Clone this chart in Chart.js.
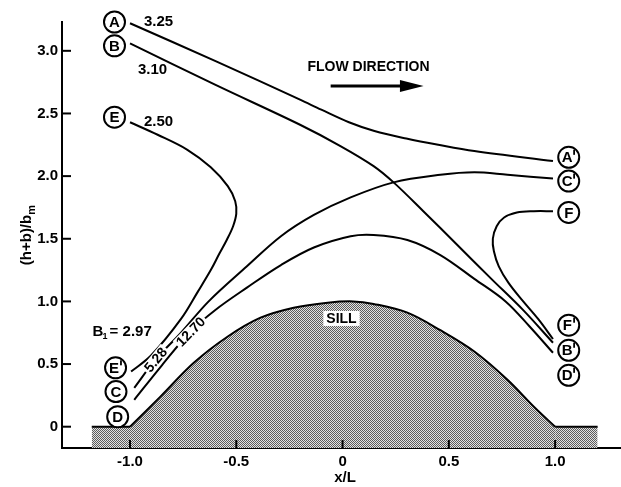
<!DOCTYPE html>
<html>
<head>
<meta charset="utf-8">
<script src="https://cdn.jsdelivr.net/npm/chart.js@4.4.0/dist/chart.umd.min.js"></script>
<style>
    html, body { margin: 0; padding: 0; background: #fff; }
    #wrap { width: 621px; height: 487px; }
</style>
</head>
<body>
<div id="wrap"><canvas id="chart" width="621" height="487"></canvas></div>
<script>
// axis ticks
const xTicks = [-1.0, -0.5, 0, 0.5, 1.0];
const xTickLabels = ['-1.0', '-0.5', '0', '0.5', '1.0'];
const yTicks = [0, 0.5, 1.0, 1.5, 2.0, 2.5, 3.0];
const yTickLabels = ['0', '0.5', '1.0', '1.5', '2.0', '2.5', '3.0'];

// streamlines, [x/L, (h+b)/bm]
const curveA = [[-1.0, 3.22], [-0.6, 2.92], [-0.2, 2.61], [-0.1, 2.53], [0.03, 2.43], [0.15, 2.36], [0.3, 2.30], [0.45, 2.25], [0.62, 2.20], [0.99, 2.12]];
const curveB = [[-1.0, 3.06], [-0.6, 2.73], [-0.2, 2.41], [-0.01, 2.24], [0.146, 2.08], [0.24, 1.95], [0.38, 1.72], [0.54, 1.45], [0.70, 1.18], [0.85, 0.93], [0.99, 0.67]];
const curveC = [[-0.98, 0.31], [-0.88, 0.535], [-0.76, 0.75], [-0.63, 1.0], [-0.45, 1.28], [-0.29, 1.52], [-0.135, 1.69], [0.038, 1.83], [0.24, 1.95], [0.46, 2.01], [0.62, 2.03], [0.776, 2.01], [0.99, 1.98]];
const curveD = [[-0.98, 0.215], [-0.85, 0.49], [-0.715, 0.76], [-0.60, 0.93], [-0.45, 1.11], [-0.29, 1.29], [-0.135, 1.43], [0.038, 1.52], [0.146, 1.53], [0.305, 1.49], [0.46, 1.37], [0.62, 1.18], [0.767, 1.0], [0.88, 0.80], [0.99, 0.59]];
const curveE = [[-1.0, 2.43], [-0.87, 2.33], [-0.73, 2.21], [-0.62, 2.07], [-0.54, 1.92], [-0.505, 1.80], [-0.50, 1.70], [-0.515, 1.60], [-0.545, 1.49], [-0.58, 1.38], [-0.62, 1.25], [-0.68, 1.08], [-0.76, 0.86], [-0.90, 0.57], [-0.995, 0.44]];
const curveF = [[0.99, 1.72], [0.90, 1.72], [0.82, 1.71], [0.76, 1.67], [0.725, 1.60], [0.707, 1.50], [0.712, 1.40], [0.735, 1.28], [0.78, 1.15], [0.845, 1.01], [0.92, 0.86], [0.99, 0.70]];

// sill profile
const sillLeft = [[-1.18, 0], [-1.0, 0]];
const sillCurve = [[-1.0, 0], [-0.857, 0.24], [-0.70, 0.51], [-0.54, 0.72], [-0.386, 0.87], [-0.23, 0.95], [-0.07, 0.99], [0.05, 1.0], [0.146, 0.98], [0.305, 0.91], [0.46, 0.77], [0.62, 0.60], [0.776, 0.375], [0.90, 0.16], [1.0, 0]];
const sillRight = [[1.0, 0], [1.2, 0]];

const FONT = '"Liberation Sans", Arial, sans-serif';

function toPoints(arr) {
    return arr.map(p => ({ x: p[0], y: p[1] }));
}

function stipple() {
    const c = document.createElement('canvas');
    c.width = 4;
    c.height = 4;
    const g = c.getContext('2d');
    g.fillStyle = '#e2e2e2';
    g.fillRect(0, 0, 4, 4);
    g.fillStyle = '#5c5c5c';
    for (let i = 0; i < 4; i++) {
        for (let j = 0; j < 4; j++) {
            if ((i + j) % 2 === 0) g.fillRect(i, j, 1, 1);
        }
    }
    return document.getElementById('chart').getContext('2d').createPattern(c, 'repeat');
}

function lineSet(data) {
    return {
        data: toPoints(data),
        showLine: true,
        borderColor: '#000',
        borderWidth: 2,
        pointRadius: 0,
        tension: 0.35,
        fill: false
    };
}

function sillSet(data, tension, pattern) {
    return {
        data: toPoints(data),
        showLine: true,
        borderColor: '#000',
        borderWidth: 2,
        pointRadius: 0,
        tension: tension,
        fill: 'start',
        backgroundColor: pattern
    };
}

// annotation placement
const circles = [
    { t: 'A', x: -1.073, y: 3.23 }, { t: 'B', x: -1.073, y: 3.04 }, { t: 'E', x: -1.073, y: 2.47 },
    { t: "A'", x: 1.064, y: 2.15 }, { t: "C'", x: 1.064, y: 1.96 }, { t: 'F', x: 1.064, y: 1.71 },
    { t: "F'", x: 1.064, y: 0.81 }, { t: "B'", x: 1.064, y: 0.61 }, { t: "D'", x: 1.064, y: 0.41 },
    { t: "E'", x: -1.068, y: 0.47 }, { t: 'C', x: -1.066, y: 0.28 }, { t: 'D', x: -1.058, y: 0.08 }
];
const notes = [
    { t: '3.25', x: -0.866, y: 3.23 },
    { t: '3.10', x: -0.894, y: 2.85 },
    { t: '2.50', x: -0.866, y: 2.43 }
];

const overlay = {
    id: 'overlay',
    afterDraw(chart) {
        const { ctx, chartArea } = chart;
        const xs = chart.scales.x;
        const ys = chart.scales.y;
        const px = v => xs.getPixelForValue(v);
        const py = v => ys.getPixelForValue(v);
        ctx.save();
        ctx.strokeStyle = '#000';
        ctx.fillStyle = '#000';
        ctx.lineWidth = 2;

        // inward ticks
        xTicks.forEach(v => {
            ctx.beginPath();
            ctx.moveTo(px(v), chartArea.bottom);
            ctx.lineTo(px(v), chartArea.bottom - 8);
            ctx.stroke();
        });
        yTicks.forEach(v => {
            ctx.beginPath();
            ctx.moveTo(chartArea.left, py(v));
            ctx.lineTo(chartArea.left + 9, py(v));
            ctx.stroke();
        });

        // circled letters
        ctx.lineWidth = 2;
        circles.forEach(c => {
            const cx = px(c.x), cy = py(c.y);
            ctx.fillStyle = '#fff';
            ctx.beginPath();
            ctx.arc(cx, cy, 10.5, 0, Math.PI * 2);
            ctx.fill();
            ctx.stroke();
            ctx.fillStyle = '#000';
            ctx.font = 'bold 15px ' + FONT;
            ctx.textAlign = 'center';
            ctx.textBaseline = 'middle';
            const shift = c.t.length > 1 ? -1.5 : 0;
            ctx.fillText(c.t[0], cx + shift, cy + 1);
            if (c.t.length > 1) {
                ctx.fillRect(cx + 4.5, cy - 7.5, 1.8, 5);
            }
        });

        // numbers beside starting points
        ctx.font = 'bold 15px ' + FONT;
        ctx.textAlign = 'center';
        ctx.textBaseline = 'middle';
        notes.forEach(n => ctx.fillText(n.t, px(n.x), py(n.y)));

        // B1 = 2.97
        const bx = px(-1.016) - 34, by = py(0.755);
        ctx.textAlign = 'left';
        ctx.fillText('B', bx, by);
        ctx.font = 'bold 9px ' + FONT;
        ctx.fillText('1', bx + 10, by + 4);
        ctx.font = 'bold 15px ' + FONT;
        ctx.fillText('= 2.97', bx + 17, by);

        // rotated line labels
        function rotLabel(text, x, y, ang) {
            ctx.save();
            ctx.translate(px(x), py(y));
            ctx.rotate(ang);
            ctx.font = 'bold 14px ' + FONT;
            const w = ctx.measureText(text).width;
            ctx.fillStyle = '#fff';
            ctx.fillRect(-w / 2 - 2, -6, w + 4, 12);
            ctx.fillStyle = '#000';
            ctx.textAlign = 'center';
            ctx.textBaseline = 'middle';
            ctx.fillText(text, 0, 1);
            ctx.restore();
        }
        rotLabel('5.28', -0.88, 0.535, -0.88);
        rotLabel('12.70', -0.715, 0.76, -0.80);

        // SILL
        ctx.font = 'bold 14px ' + FONT;
        const sw = ctx.measureText('SILL').width;
        const sx = px(-0.005), sy = py(0.86);
        ctx.fillStyle = '#fff';
        ctx.fillRect(sx - sw / 2 - 3, sy - 8, sw + 6, 15);
        ctx.fillStyle = '#000';
        ctx.textAlign = 'center';
        ctx.fillText('SILL', sx, sy);

        // flow direction
        ctx.fillText('FLOW DIRECTION', px(0.122), py(2.87));
        const ay = py(2.72);
        ctx.lineWidth = 3;
        ctx.beginPath();
        ctx.moveTo(px(-0.056), ay);
        ctx.lineTo(px(0.30), ay);
        ctx.stroke();
        ctx.beginPath();
        ctx.moveTo(px(0.381), ay);
        ctx.lineTo(px(0.27), ay - 6);
        ctx.lineTo(px(0.27), ay + 6);
        ctx.closePath();
        ctx.fill();

        // axis titles
        ctx.font = 'bold 15px ' + FONT;
        ctx.textAlign = 'center';
        ctx.fillText('x/L', 345, 478);
        ctx.save();
        ctx.translate(27, 236);
        ctx.rotate(-Math.PI / 2);
        ctx.textAlign = 'left';
        const main = '(h+b)/b';
        const mw = ctx.measureText(main).width;
        ctx.fillText(main, -(mw + 8) / 2, 0);
        ctx.font = 'bold 11px ' + FONT;
        ctx.fillText('m', -(mw + 8) / 2 + mw, 5);
        ctx.restore();

        ctx.restore();
    }
};

const pattern = stipple();

new Chart(document.getElementById('chart'), {
    type: 'scatter',
    data: {
        datasets: [
            lineSet(curveA), lineSet(curveB), lineSet(curveC),
            lineSet(curveD), lineSet(curveE), lineSet(curveF),
            sillSet(sillLeft, 0, pattern),
            sillSet(sillCurve, 0.35, pattern),
            sillSet(sillRight, 0, pattern)
        ]
    },
    options: {
        responsive: false,
        animation: false,
        layout: { padding: { top: 22, right: 0, left: 0, bottom: 0 } },
        plugins: {
            legend: { display: false },
            tooltip: { enabled: false }
        },
        scales: {
            x: {
                type: 'linear',
                min: -1.32,
                max: 1.31,
                afterBuildTicks: s => { s.ticks = xTicks.map(v => ({ value: v })); },
                afterFit: s => { s.height = 39; },
                grid: { display: false, drawTicks: false },
                border: { display: true, color: '#000', width: 2 },
                ticks: {
                    padding: 5,
                    color: '#000',
                    font: { family: FONT, size: 15, weight: 'bold' },
                    maxRotation: 0,
                    callback: (v) => xTickLabels[xTicks.indexOf(v)]
                }
            },
            y: {
                type: 'linear',
                min: -0.17,
                max: 3.23,
                afterBuildTicks: s => { s.ticks = yTicks.map(v => ({ value: v })); },
                afterFit: s => { s.width = 62; },
                grid: { display: false, drawTicks: false },
                border: { display: true, color: '#000', width: 2 },
                ticks: {
                    padding: 4,
                    color: '#000',
                    font: { family: FONT, size: 15, weight: 'bold' },
                    callback: (v) => yTickLabels[yTicks.indexOf(v)]
                }
            }
        }
    },
    plugins: [overlay]
});
</script>
</body>
</html>
